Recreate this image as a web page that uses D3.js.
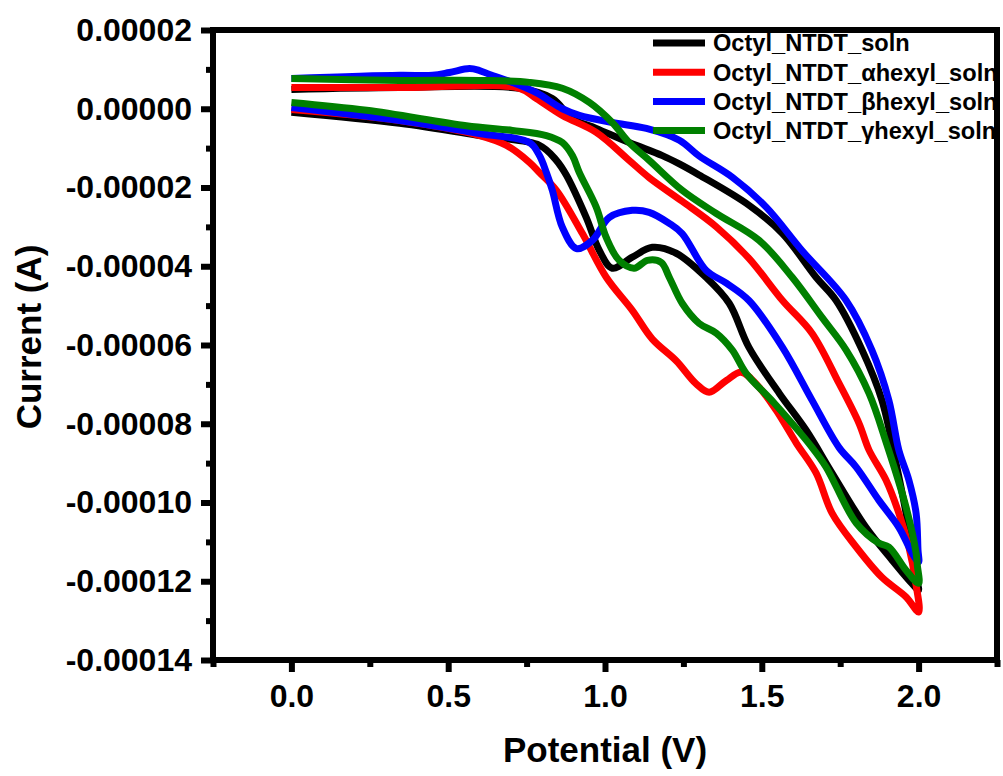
<!DOCTYPE html>
<html><head><meta charset="utf-8">
<script src="https://cdn.jsdelivr.net/npm/d3@7"></script>
<style>
body{margin:0;background:#fff}
svg text{font-family:"Liberation Sans",Arial,Helvetica,sans-serif;font-weight:bold;fill:#000}
</style>
</head><body>
<svg id="chart" width="1003" height="776"></svg>
<script>
// ---- data (potential in V, current in units of 1e-5 A) ----
const CURRENT_UNIT = 1e-5;
const seriesNames = ["Octyl_NTDT_soln","Octyl_NTDT_\u03B1hexyl_soln","Octyl_NTDT_\u03B2hexyl_soln","Octyl_NTDT_\u03B3hexyl_soln"];
const seriesColors = ["#000000","#ff0000","#0000ff","#008000"];
const potentialTicks = [0.0, 0.5, 1.0, 1.5, 2.0];
const potentialMinorTicks = [-0.25, 0.25, 0.75, 1.25, 1.75, 2.25];
const currentTicks = [2e-5, 0, -2e-5, -4e-5, -6e-5, -8e-5, -10e-5, -12e-5, -14e-5];
const currentMinorTicks = [1e-5, -1e-5, -3e-5, -5e-5, -7e-5, -9e-5, -11e-5, -13e-5];

const octylSoln = [
 [0.000,-0.09],[0.345,-0.37],[0.600,-0.68],[0.791,-0.93],[0.845,-1.31],[0.877,-1.69],[0.940,-2.76],[0.982,-3.60],[1.023,-4.05],[1.087,-3.77],[1.151,-3.52],[1.227,-3.67],[1.322,-4.28],[1.396,-4.94],[1.459,-6.06],[1.556,-7.23],[1.641,-8.16],[1.724,-9.25],[1.832,-10.63],[1.915,-11.46],[1.969,-11.97],[2.000,-12.22],
 [1.998,-12.10],[1.960,-10.27],[1.928,-9.00],[1.883,-7.40],[1.820,-6.13],[1.737,-4.87],[1.673,-4.28],[1.566,-3.17],[1.459,-2.45],[1.300,-1.68],[1.237,-1.40],[1.183,-1.19],[1.077,-0.86],[0.972,-0.50],[0.896,-0.25],[0.832,0.26],[0.727,0.52],[0.345,0.54],[0.000,0.49]
];
const octylAlphaHexyl = [
 [0.000,-0.02],[0.345,-0.30],[0.600,-0.68],[0.686,-0.93],[0.759,-1.36],[0.791,-1.62],[0.845,-2.07],[0.928,-3.17],[1.004,-4.28],[1.087,-5.12],[1.151,-5.85],[1.227,-6.40],[1.290,-6.98],[1.332,-7.20],[1.387,-6.90],[1.434,-6.69],[1.491,-7.07],[1.546,-7.66],[1.610,-8.49],[1.673,-9.25],[1.724,-10.27],[1.801,-11.13],[1.883,-11.90],[1.960,-12.40],[2.000,-12.78],
 [1.990,-12.00],[1.969,-11.13],[1.937,-10.27],[1.896,-9.43],[1.842,-8.67],[1.810,-7.99],[1.746,-6.97],[1.660,-5.70],[1.566,-4.87],[1.459,-3.80],[1.355,-3.00],[1.246,-2.35],[1.141,-1.75],[1.077,-1.31],[0.972,-0.60],[0.864,-0.17],[0.781,0.26],[0.727,0.52],[0.345,0.54],[0.000,0.54]
];
const octylBetaHexyl = [
 [0.000,0.03],[0.345,-0.30],[0.600,-0.63],[0.759,-0.86],[0.791,-1.19],[0.813,-1.62],[0.832,-2.07],[0.864,-3.01],[0.909,-3.55],[0.960,-3.34],[1.014,-2.76],[1.087,-2.58],[1.141,-2.63],[1.205,-2.91],[1.246,-3.17],[1.322,-4.10],[1.387,-4.43],[1.459,-4.87],[1.566,-6.06],[1.660,-7.40],[1.746,-8.60],[1.801,-9.10],[1.873,-9.94],[1.937,-10.63],[1.979,-11.28],[2.000,-11.51],
 [1.998,-11.20],[1.992,-10.27],[1.969,-9.43],[1.937,-8.67],[1.905,-7.40],[1.851,-6.13],[1.769,-4.87],[1.628,-3.60],[1.514,-2.50],[1.406,-1.74],[1.300,-1.20],[1.237,-0.80],[1.132,-0.50],[1.023,-0.35],[0.918,-0.17],[0.864,0.00],[0.781,0.41],[0.705,0.67],[0.632,0.87],[0.600,0.97],[0.568,1.02],[0.504,0.92],[0.450,0.85],[0.345,0.85],[0.000,0.77]
];
const octylGammaHexyl = [
 [0.000,0.16],[0.240,-0.04],[0.558,-0.43],[0.705,-0.55],[0.813,-0.68],[0.864,-0.86],[0.896,-1.19],[0.918,-1.62],[0.972,-2.50],[1.004,-3.27],[1.045,-3.85],[1.093,-4.05],[1.135,-3.85],[1.179,-3.90],[1.205,-4.28],[1.246,-4.94],[1.300,-5.45],[1.355,-5.70],[1.406,-6.13],[1.450,-6.72],[1.540,-7.48],[1.660,-8.60],[1.705,-9.10],[1.801,-10.52],[1.873,-11.03],[1.905,-11.13],[1.960,-11.72],[2.000,-12.05],
 [1.996,-11.60],[1.992,-11.28],[1.960,-10.12],[1.896,-8.46],[1.842,-7.23],[1.769,-6.13],[1.692,-5.30],[1.597,-4.28],[1.491,-3.34],[1.355,-2.66],[1.246,-2.07],[1.141,-1.31],[1.077,-0.86],[1.023,-0.35],[0.950,0.16],[0.864,0.52],[0.759,0.67],[0.600,0.72],[0.345,0.72],[0.000,0.77]
];
const seriesData = [octylSoln, octylAlphaHexyl, octylBetaHexyl, octylGammaHexyl];

// ---- layout ----
const svg = d3.select("#chart");
const X0 = 213, X1 = 997, Y0 = 30, Y1 = 660;
const x = d3.scaleLinear().domain([-0.25, 2.25]).range([X0, X1]);
const y = d3.scaleLinear().domain([-14e-5, 2e-5]).range([Y1, Y0]);
const AXW = 6;

// curves
const line = d3.line()
  .x(d => x(d[0]))
  .y(d => y(d[1] * CURRENT_UNIT))
  .curve(d3.curveCatmullRom.alpha(0.5));
svg.append("g").selectAll("path").data(seriesData).join("path")
  .attr("d", line)
  .attr("fill", "none")
  .attr("stroke", (d, i) => seriesColors[i])
  .attr("stroke-width", 7)
  .attr("stroke-linejoin", "round");

// legend
const leg = svg.append("g");
seriesNames.forEach((n, i) => {
  const yy = 43 + i * 29.2;
  leg.append("line").attr("x1", 653).attr("x2", 705).attr("y1", yy).attr("y2", yy)
    .attr("stroke", seriesColors[i]).attr("stroke-width", 7);
  leg.append("text").attr("x", 713).attr("y", yy).attr("dy", "0.36em")
    .attr("font-size", 23.6).text(n);
});

// axes
const fmtY = v => (Math.abs(v) < 1e-12 ? 0 : v).toFixed(5);
const xAxis = d3.axisBottom(x).tickValues(potentialTicks).tickFormat(d3.format(".1f")).tickSize(12).tickPadding(12);
const xMinor = d3.axisBottom(x).tickValues(potentialMinorTicks).tickFormat("").tickSize(7);
const yAxis = d3.axisLeft(y).tickValues(currentTicks).tickFormat(fmtY).tickSize(12).tickPadding(9);
const yMinor = d3.axisLeft(y).tickValues(currentMinorTicks).tickFormat("").tickSize(7);

function style(g, fs) {
  g.select(".domain").remove();
  g.selectAll("line").attr("stroke", "#000").attr("stroke-width", AXW);
  g.selectAll("text").attr("font-size", fs).attr("font-family", null).attr("fill", "#000");
}
svg.append("g").attr("transform", `translate(0,${Y1})`).call(xAxis).call(g => style(g, 32));
svg.append("g").attr("transform", `translate(0,${Y1})`).call(xMinor).call(g => style(g, 32));
svg.append("g").attr("transform", `translate(${X0},0)`).call(yAxis).call(g => style(g, 32));
svg.append("g").attr("transform", `translate(${X0},0)`).call(yMinor).call(g => style(g, 32));

// frame
svg.append("rect").attr("x", X0).attr("y", Y0).attr("width", X1 - X0).attr("height", Y1 - Y0)
  .attr("fill", "none").attr("stroke", "#000").attr("stroke-width", AXW);

// titles
svg.append("text").attr("x", (X0 + X1) / 2).attr("y", 762).attr("text-anchor", "middle")
  .attr("font-size", 35).text("Potential (V)");
svg.append("text").attr("transform", `translate(41,${(Y0 + Y1) / 2 - 8}) rotate(-90)`)
  .attr("text-anchor", "middle").attr("font-size", 35).text("Current (A)");
</script>
</body></html>
